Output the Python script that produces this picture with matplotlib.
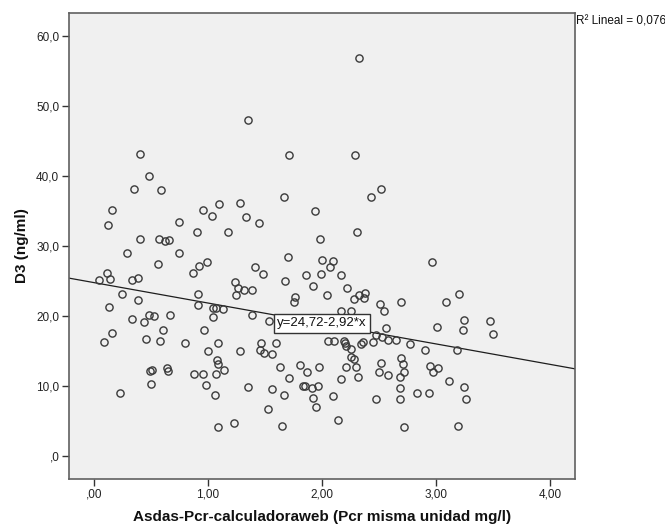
import matplotlib
matplotlib.use("Agg")
import matplotlib.pyplot as plt
import numpy as np
from matplotlib.ticker import FixedLocator, FuncFormatter

plt.rcParams["font.family"] = ["Liberation Sans", "DejaVu Sans"]

# Asdas-Pcr values (x) and D3 values (y)
asdas = [
    0.40, 0.485, 0.354, 0.59, 0.161, 0.123, 0.746, 1.10, 0.953, 1.032,
    0.90, 1.175, 0.406, 0.573, 0.62, 0.658, 0.289, 0.748, 0.558, 0.988,
    0.921, 0.868, 0.111, 0.047, 0.143, 0.336, 0.383, 0.248, 0.386, 0.912,
    0.135, 0.912, 1.04, 1.067, 1.13, 1.04, 0.48, 0.524, 0.664, 0.33,
    0.44, 0.608, 0.965, 0.158, 0.091, 0.459, 0.576, 0.795, 1.088, 1.0,
    1.079, 1.085, 1.138, 1.067, 0.877, 0.956, 0.49, 0.506, 0.637, 0.649,
    0.5, 0.985, 1.061, 0.231, 1.09,
    1.348, 1.713, 2.29, 2.515, 2.43, 1.664, 1.278, 1.336, 1.447, 1.941,
    2.307, 1.98, 1.699, 2.0, 2.094, 2.073, 1.41, 1.48, 1.857, 1.989,
    2.167, 1.678, 1.918, 2.217, 1.24, 1.263, 1.316, 1.383, 1.248, 1.766,
    2.04, 2.32, 2.38, 2.28,
    1.75, 2.37, 2.506, 2.546, 1.383, 1.535, 2.164, 2.254, 2.47, 2.524,
    2.445, 2.363, 2.34, 2.56, 2.58, 2.05, 2.108, 2.19, 2.2, 2.21,
    2.25, 2.258, 2.28, 2.295, 2.213, 2.167, 2.316, 2.52, 2.5, 2.58,
    2.47, 2.143, 1.465, 1.596, 1.458, 1.488, 1.56, 1.28, 1.632, 1.807,
    1.865, 1.971, 1.708, 1.83, 1.85, 1.91, 1.968, 1.921, 1.947, 2.096,
    1.348, 1.564, 1.664, 1.529, 1.225, 1.646,
    2.962, 3.20, 3.088, 2.693, 3.248, 3.474, 3.5, 3.234, 3.006, 2.647,
    2.772, 2.90, 3.18, 2.693, 2.708, 2.722, 2.684, 2.947, 3.015, 2.971,
    3.114, 3.246, 3.263, 2.68, 2.687, 2.836, 2.936, 2.722, 3.193,
    2.327,
]
d3 = [
    43.1, 40.0, 38.1, 38.0, 35.1, 32.9, 33.4, 36.0, 35.1, 34.3,
    32.0, 32.0, 31.0, 31.0, 30.6, 30.8, 29.0, 29.0, 27.4, 27.6,
    27.1, 26.1, 26.1, 25.1, 25.2, 25.1, 25.4, 23.1, 22.3, 23.1,
    21.3, 21.5, 21.1, 21.1, 21.0, 19.8, 20.1, 20.0, 20.1, 19.5,
    19.1, 17.9, 17.9, 17.5, 16.3, 16.7, 16.4, 16.1, 16.1, 15.0,
    13.7, 13.1, 12.2, 11.7, 11.7, 11.6, 12.1, 12.3, 12.5, 12.1,
    10.2, 10.1, 8.6, 9.0, 4.1,
    48.0, 43.0, 43.0, 38.1, 37.0, 37.0, 36.1, 34.1, 33.2, 35.0,
    32.0, 31.0, 28.4, 28.0, 27.8, 27.0, 27.0, 26.0, 25.8, 26.0,
    25.8, 25.0, 24.2, 24.0, 24.8, 24.0, 23.6, 23.6, 23.0, 22.6,
    23.0, 23.0, 23.2, 22.4,
    22.0, 22.5, 21.6, 20.6, 20.1, 19.3, 20.6, 20.6, 17.3, 17.0,
    16.3, 16.3, 15.9, 18.3, 16.5, 16.4, 16.4, 16.4, 16.1, 15.7,
    15.3, 14.1, 13.8, 12.7, 12.6, 11.0, 11.2, 13.3, 12.0, 11.5,
    8.05, 5.1, 16.1, 16.1, 15.1, 14.7, 14.5, 14.9, 12.7, 12.9,
    12.0, 12.7, 11.1, 10.0, 9.9, 9.7, 10.0, 8.2, 7.0, 8.5,
    9.8, 9.5, 8.7, 6.7, 4.6, 4.3,
    27.6, 23.1, 22.0, 22.0, 19.4, 19.3, 17.4, 18.0, 18.4, 16.5,
    16.0, 15.1, 15.1, 14.0, 13.1, 12.0, 11.2, 12.8, 12.5, 12.0,
    10.6, 9.8, 8.1, 9.7, 8.1, 9.0, 8.9, 4.1, 4.2,
    56.8,
]

# fitted line shown on the chart
intercept = 24.72
slope = -2.92
r2_text = "R\u00b2 Lineal = 0,076"
eq_text = "y=24,72-2,92*x"

x_ticks = [0, 1, 2, 3, 4]
x_labels = [",00", "1,00", "2,00", "3,00", "4,00"]
y_ticks = [0, 10, 20, 30, 40, 50, 60]
y_labels = [",0", "10,0", "20,0", "30,0", "40,0", "50,0", "60,0"]

fig = plt.figure(figsize=(6.65, 5.26), dpi=100)
ax = fig.add_axes([0.1038, 0.0894, 0.761, 0.886])
ax.set_facecolor("#f0f0f0")

xmin, xmax = -0.219, 4.219
ax.set_xlim(xmin, xmax)
ax.set_ylim(-3.33, 63.24)

ax.plot(asdas, d3, linestyle="none", marker="o", ms=5.2, mfc="none",
        mec="#3a3a3a", mew=1.0, zorder=3)

xl = np.array([xmin, xmax])
ax.plot(xl, intercept + slope * xl, color="#1e1e1e", lw=0.9, zorder=2)

ax.text(2.0, intercept + slope * 2.0, eq_text, ha="center", va="center",
        fontsize=9.5, color="#111111", zorder=4,
        bbox=dict(boxstyle="square,pad=0.25", fc="white", ec="#333333", lw=1.0))

ax.xaxis.set_major_locator(FixedLocator(x_ticks))
ax.xaxis.set_major_formatter(FuncFormatter(lambda v, p: x_labels[x_ticks.index(int(round(v)))]))
ax.yaxis.set_major_locator(FixedLocator(y_ticks))
ax.yaxis.set_major_formatter(FuncFormatter(lambda v, p: y_labels[y_ticks.index(int(round(v)))]))

ax.tick_params(axis="both", direction="out", length=5, width=1.0,
               color="#333333", labelsize=8.5, labelcolor="#222222", pad=2)

for s in ax.spines.values():
    s.set_color("#606060")
    s.set_linewidth(1.2)

ax.set_xlabel("Asdas-Pcr-calculadoraweb (Pcr misma unidad mg/l)",
              fontsize=11, fontweight="bold", color="#111111")
ax.xaxis.set_label_coords(0.5, -0.066)
ax.set_ylabel("D3 (ng/ml)", fontsize=11, fontweight="bold", color="#111111")
ax.yaxis.set_label_coords(-0.079, 0.5)

fig.text(576 / 665, 1 - 21 / 526, r2_text, ha="left", va="center",
         fontsize=8.5, color="#111111")

fig.savefig("out.png", dpi=100)
plt.close()
